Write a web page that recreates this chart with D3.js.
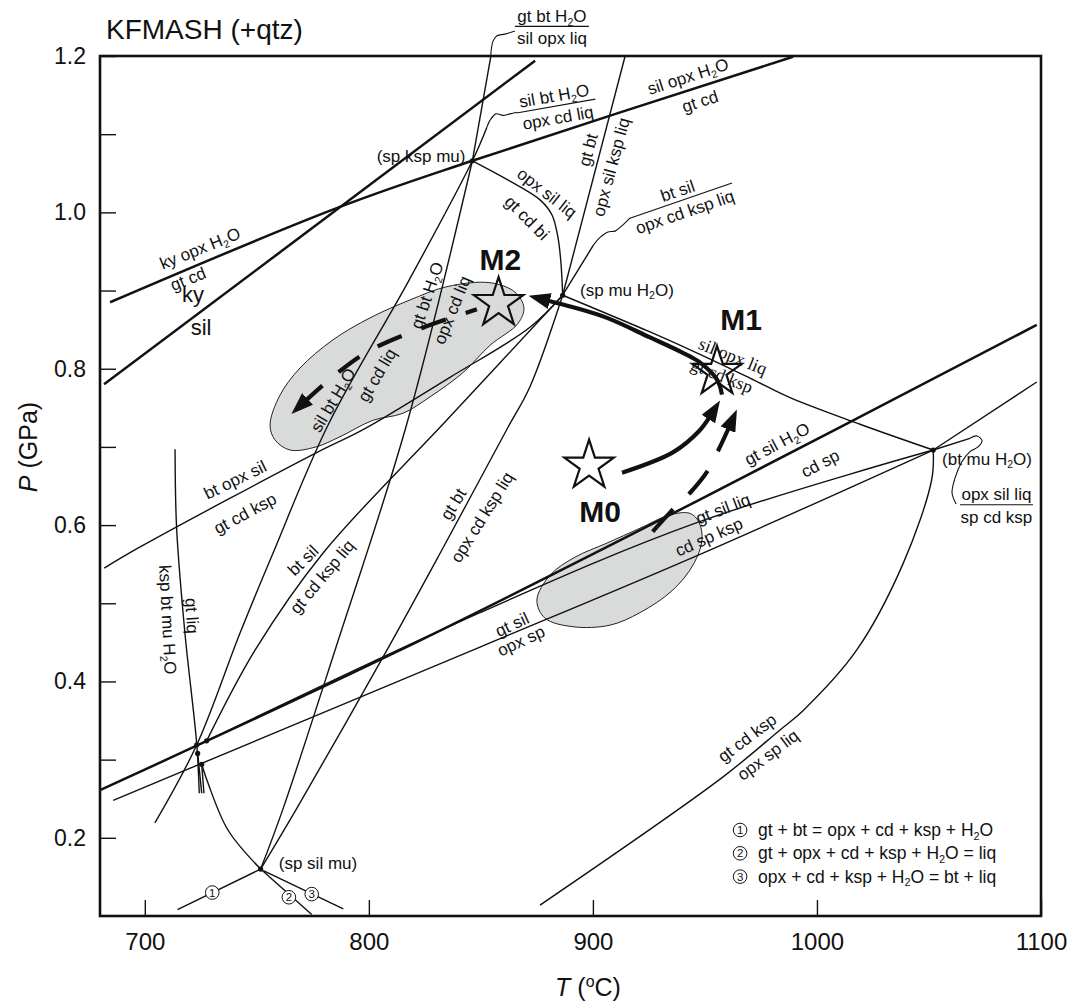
<!DOCTYPE html>
<html>
<head>
<meta charset="utf-8">
<title>KFMASH (+qtz) petrogenetic grid</title>
<script src="https://cdn.jsdelivr.net/npm/d3@7"></script>
<style>
  body { margin: 0; background: #fff; }
  svg text { font-family: "Liberation Sans", Arial, Helvetica, sans-serif; fill: #111; }
  .serif { font-family: "Liberation Serif", "Times New Roman", serif !important; }
</style>
</head>
<body>
<svg id="grid" width="1071" height="1002"></svg>
<script>
// ---------- axes ----------
const tempDomain = [680, 1100];
const pressDomain = [0.1, 1.2];
const tempTicks = [700, 800, 900, 1000, 1100];
const pressTicks = [0.2, 0.3, 0.4, 0.5, 0.6, 0.7, 0.8, 0.9, 1.0, 1.1, 1.2];
const pressLabels = [0.2, 0.4, 0.6, 0.8, 1.0, 1.2];

// ---------- reaction curves, points are [T (°C), P (GPa)] ----------
// heavy lines
const kySil      = [[681.8, 0.780], [874.2, 1.194]];
const kyOpxH2O   = [[684.5, 0.885], [786.2, 1.006], [846.2, 1.066], [989.3, 1.199]];
const gtSilH2O   = [[680.0, 0.261], [813.9, 0.440], [947.3, 0.632], [1098.1, 0.856]];

// thin lines
const silBtH2O   = [[704.5, 0.219], [723.2, 0.319], [742.5, 0.462], [757.2, 0.564], [781.8, 0.728], [817.9, 0.913], [846.2, 1.066], [852.7, 1.109]];
const gtBtH2O    = [[751.7, 0.160], [761.8, 0.238], [784.9, 0.440], [816.8, 0.728], [846.2, 1.066]];
const gtBtH2OHi  = [[846.2, 1.066], [854.4, 1.199]];
const gtBt       = [[751.7, 0.160], [767.9, 0.238], [806.3, 0.431], [831.8, 0.564], [861.5, 0.722], [871.9, 0.777], [886.5, 0.894]];
const gtBtHi     = [[886.5, 0.894], [914.3, 1.199]];
const btSil      = [[727.6, 0.324], [749.2, 0.440], [779.5, 0.564], [834.7, 0.734], [886.5, 0.894]];
const btSilHi    = [[886.5, 0.894], [900.2, 0.958]];
const btOpxSil   = [[681.9, 0.545], [697.9, 0.572], [776.9, 0.693], [797.4, 0.722], [836.2, 0.789], [871.9, 0.853], [886.5, 0.894]];
const opxSilLiq  = [[846.2, 1.066], [863.0, 1.040], [876.4, 1.016], [881.7, 0.997], [884.4, 0.968], [885.8, 0.933], [886.5, 0.894]];
const silOpxLiq  = [[886.5, 0.894], [925.5, 0.847], [947.3, 0.819], [970.1, 0.788], [988.0, 0.763], [1019.2, 0.729], [1051.9, 0.696]];
const gtSilLiq   = [[727.6, 0.324], [849.6, 0.488], [947.3, 0.604], [1051.9, 0.696]];
const gtSilOpxSp = [[685.9, 0.248], [849.6, 0.444], [947.3, 0.562], [1051.9, 0.696]];
const gtSilOpxSpHi = [[1051.9, 0.696], [1098.1, 0.783]];
const gtCdKsp    = [[1051.9, 0.696], [1051.2, 0.658], [1038.5, 0.551], [1017.7, 0.440], [993.9, 0.363], [983.5, 0.338], [958.1, 0.278], [876.4, 0.114]];
const opxSilLiqHi = [[1051.9, 0.696], [1068.3, 0.711]];
const kspBtMu    = [[713.5, 0.697], [714.2, 0.596], [717.9, 0.462], [723.2, 0.319], [724.3, 0.257]];
const stubA      = [[723.6, 0.308], [725.4, 0.257]];
const stubB      = [[725.4, 0.294], [726.4, 0.257]];
const gtLiq      = [[725.4, 0.294], [728.2, 0.270], [737.1, 0.210], [751.7, 0.160]];
const reaction1  = [[751.7, 0.160], [714.6, 0.108]];
const reaction2  = [[751.7, 0.160], [774.5, 0.102]];
const reaction3  = [[752.9, 0.158], [788.6, 0.109]];

const heavyCurves = [kySil, kyOpxH2O, gtSilH2O];
const thinCurves = [silBtH2O, gtBtH2O, gtBtH2OHi, gtBt, gtBtHi, btSil, btSilHi, btOpxSil,
  opxSilLiq, silOpxLiq, gtSilLiq, gtSilOpxSp, gtSilOpxSpHi, gtCdKsp, opxSilLiqHi,
  kspBtMu, stubA, stubB, gtLiq, reaction1, reaction2, reaction3];

// leaders joining metastable ends to their reaction labels
const leaderTop   = [[854.4, 1.200], [855.4, 1.219], [857.2, 1.226], [860.8, 1.228], [865.2, 1.232]];
const leaderSilBt = [[852.7, 1.109], [854.1, 1.118], [856.7, 1.126], [859.9, 1.124], [863.0, 1.126], [866.1, 1.128]];
const leaderBtSil = [[900.2, 0.958], [903.2, 0.968], [906.7, 0.975], [909.9, 0.976], [913.0, 0.983], [916.6, 0.993]];
const leaderBtMu  = [[1068.3, 0.711], [1071.4, 0.714], [1073.7, 0.708], [1071.9, 0.700], [1068.3, 0.694], [1064.7, 0.681], [1061.6, 0.660], [1060.3, 0.641], [1062.1, 0.627]];

// invariant points
const invariants = [
  { name: "(sp ksp mu)", T: 846.2, P: 1.066, lT: 823.3, lP: 1.072 },
  { name: "(sp mu H2O)", T: 886.5, P: 0.894, lT: 915.2, lP: 0.901 },
  { name: "(bt mu H2O)", T: 1051.9, P: 0.696, lT: 1075.9, lP: 0.685 },
  { name: "(sp sil mu)", T: 751.7, P: 0.160, lT: 777.3, lP: 0.168 }
];
const clusterPoints = [[723.2, 0.319], [727.6, 0.324], [723.6, 0.308], [725.4, 0.294]];

// shaded P–T fields
const fieldM2 = [[755.9, 0.728], [760.3, 0.766], [769.3, 0.801], [784.0, 0.837], [800.5, 0.865], [818.4, 0.888],
  [834.9, 0.905], [854.1, 0.910], [865.2, 0.898], [869.2, 0.878], [866.6, 0.858], [854.1, 0.830], [842.0, 0.795],
  [827.3, 0.764], [815.2, 0.743], [801.8, 0.734], [787.1, 0.713], [776.4, 0.700], [764.8, 0.696], [758.1, 0.709]];
const fieldM0 = [[875.0, 0.504], [878.6, 0.481], [891.1, 0.470], [907.6, 0.472], [921.0, 0.488], [935.7, 0.517],
  [944.7, 0.549], [948.7, 0.581], [947.3, 0.604], [943.3, 0.615], [934.4, 0.613], [921.0, 0.596], [906.3, 0.577],
  [892.0, 0.559], [880.9, 0.536]];

// metamorphic stages
const stages = [
  { name: "M0", T: 898.3, P: 0.676, lT: 903.2, lP: 0.604 },
  { name: "M1", T: 955.4, P: 0.796, lT: 966.1, lP: 0.850 },
  { name: "M2", T: 857.9, P: 0.884, lT: 858.7, lP: 0.926 }
];

// P–T path segments
const pathM1toM2 = [[957.6, 0.767], [955.4, 0.786], [947.3, 0.809], [939.7, 0.821], [925.5, 0.840], [906.3, 0.865], [892.0, 0.878], [878.6, 0.888]];
const pathM0toM1 = [[913.0, 0.667], [935.7, 0.693], [947.3, 0.720], [952.7, 0.741]];
const pathLowToM1 = [[924.6, 0.585], [934.4, 0.616], [943.3, 0.641], [950.9, 0.668], [956.7, 0.700], [961.2, 0.728]];
const pathM2Down = [[848.2, 0.876], [823.7, 0.852], [799.6, 0.822], [784.9, 0.792], [771.0, 0.757]];

// reaction labels: text, T, P, rotation
const fieldLabels = [
  ["ky opx H2O", 724.6, 0.954, -22], ["gt cd", 719.3, 0.915, -22],
  ["sil opx H2O", 942.4, 1.174, -18], ["gt cd", 947.8, 1.142, -18],
  ["gt bt", 897.8, 1.080, -75], ["opx sil ksp liq", 908.1, 1.058, -75],
  ["opx sil liq", 879.5, 1.025, 38], ["gt cd bi", 870.6, 0.993, 45],
  ["gt bt H2O", 825.9, 0.894, -71], ["opx cd liq", 837.1, 0.875, -68],
  ["sil bt H2O", 784.0, 0.760, -59], ["gt cd liq", 803.6, 0.792, -59],
  ["bt opx sil", 740.3, 0.658, -26], ["gt cd ksp", 744.7, 0.615, -28],
  ["bt sil", 770.6, 0.555, -45], ["gt cd ksp liq", 779.1, 0.534, -50],
  ["gt bt", 837.6, 0.627, -58], ["opx cd ksp liq", 850.5, 0.610, -58],
  ["ksp bt mu H2O", 710.3, 0.479, 87], ["gt liq", 721.1, 0.484, 87],
  ["gt sil H2O", 982.2, 0.704, -28], ["cd sp", 1001.4, 0.679, -28],
  ["gt sil liq", 958.1, 0.621, -21], ["cd sp ksp", 951.8, 0.585, -24],
  ["gt sil", 863.9, 0.473, -25], ["opx sp", 867.9, 0.452, -25],
  ["gt cd ksp", 968.8, 0.328, -37], ["opx sp liq", 978.1, 0.306, -37]
];
const serifLabels = [["sil opx liq", 962.5, 0.816, 22], ["gt cd ksp", 957.6, 0.791, 22]];
const stabilityLabels = [["ky", 721.5, 0.885], ["sil", 725.1, 0.843]];

// reactions written as fractions: upper, lower, T, P of the bar, rotation, bar length
const fractionLabels = [
  ["gt bt H2O", "sil opx liq", 881.7, 1.238, 0, 74],
  ["sil bt H2O", "opx cd liq", 883.5, 1.136, -10, 80],
  ["bt sil", "opx cd ksp liq", 939.3, 1.015, -19, 108],
  ["opx sil liq", "sp cd ksp", 1080.1, 0.626, 0, 73]
];

// numbered reactions
const markerNumbers = [["1", 730.1, 0.130], ["2", 764.3, 0.124], ["3", 774.5, 0.128]];
const legendRows = ["gt + bt = opx + cd + ksp + H2O", "gt + opx + cd + ksp + H2O = liq", "opx + cd + ksp + H2O = bt + liq"];
const legendAnchor = [965.7, 0.2023];

// ---------- drawing ----------
const svg = d3.select("#grid");
const x = d3.scaleLinear().domain(tempDomain).range([100, 1041]);
const y = d3.scaleLinear().domain(pressDomain).range([916, 56]);

const curve = d3.line().x(d => x(d[0])).y(d => y(d[1])).curve(d3.curveCatmullRom.alpha(0.5));
const loop = d3.line().x(d => x(d[0])).y(d => y(d[1])).curve(d3.curveCatmullRomClosed.alpha(0.5));

function richText(sel, str, size) {
  str.split(/(H2O)/).forEach(p => {
    if (p === "H2O") {
      sel.append("tspan").text("H");
      sel.append("tspan").attr("dy", size * 0.22).attr("font-size", size * 0.62).text("2");
      sel.append("tspan").attr("dy", -size * 0.22).text("O");
    } else if (p) {
      sel.append("tspan").text(p);
    }
  });
}

const defs = svg.append("defs");
defs.append("marker").attr("id", "head")
  .attr("viewBox", "0 0 22 16").attr("refX", 5).attr("refY", 8)
  .attr("markerWidth", 22).attr("markerHeight", 16)
  .attr("markerUnits", "userSpaceOnUse").attr("orient", "auto")
  .append("path").attr("d", "M0,0 L22,8 L0,16 Z").attr("fill", "#111");

// shaded fields
const gFields = svg.append("g");
[fieldM2, fieldM0].forEach(f => {
  gFields.append("path").attr("d", loop(f))
    .attr("fill", "#d9dada").attr("stroke", "#222").attr("stroke-width", 1);
});

// reaction curves
const gCurves = svg.append("g").attr("fill", "none").attr("stroke", "#111").attr("stroke-linejoin", "round");
thinCurves.forEach(c => gCurves.append("path").attr("d", curve(c)).attr("stroke-width", 1.4));
heavyCurves.forEach(c => gCurves.append("path").attr("d", curve(c)).attr("stroke-width", 2.5));
[leaderTop, leaderSilBt, leaderBtSil, leaderBtMu].forEach(c =>
  gCurves.append("path").attr("d", curve(c)).attr("stroke-width", 1.1));

// invariant points
const gPts = svg.append("g");
invariants.forEach(p => gPts.append("circle").attr("cx", x(p.T)).attr("cy", y(p.P)).attr("r", 2.6).attr("fill", "#111"));
clusterPoints.forEach(p => gPts.append("circle").attr("cx", x(p[0])).attr("cy", y(p[1])).attr("r", 2.6).attr("fill", "#111"));

// labels
const gLab = svg.append("g");
const LS = 17;
fieldLabels.forEach(([t, T, P, a]) => {
  const el = gLab.append("text").attr("transform", `translate(${x(T)},${y(P)}) rotate(${a})`)
    .attr("text-anchor", "middle").attr("y", LS * 0.35).attr("font-size", LS);
  richText(el, t, LS);
});
serifLabels.forEach(([t, T, P, a]) => {
  gLab.append("text").attr("class", "serif").attr("transform", `translate(${x(T)},${y(P)}) rotate(${a})`)
    .attr("text-anchor", "middle").attr("y", 6).attr("font-size", 18).text(t);
});
stabilityLabels.forEach(([t, T, P]) => {
  gLab.append("text").attr("x", x(T)).attr("y", y(P)).attr("text-anchor", "middle").attr("font-size", 22).text(t);
});
invariants.forEach(p => {
  const el = gLab.append("text").attr("x", x(p.lT)).attr("y", y(p.lP) + LS * 0.35)
    .attr("text-anchor", "middle").attr("font-size", LS);
  richText(el, p.name, LS);
});
fractionLabels.forEach(([top, bottom, T, P, a, len]) => {
  const g = gLab.append("g").attr("transform", `translate(${x(T)},${y(P)}) rotate(${a})`);
  g.append("line").attr("x1", -len / 2).attr("x2", len / 2).attr("stroke", "#111").attr("stroke-width", 1.2);
  const t1 = g.append("text").attr("text-anchor", "middle").attr("y", -4.5).attr("font-size", LS);
  richText(t1, top, LS);
  const t2 = g.append("text").attr("text-anchor", "middle").attr("y", LS * 1.05).attr("font-size", LS);
  richText(t2, bottom, LS);
});

// numbered markers on reactions 1-3
function circledNumber(g, n, cx, cy, fill) {
  g.append("circle").attr("cx", cx).attr("cy", cy).attr("r", 6.8)
    .attr("fill", fill).attr("stroke", "#111").attr("stroke-width", 1);
  g.append("text").attr("x", cx).attr("y", cy + 4).attr("text-anchor", "middle")
    .attr("font-size", 11.5).text(n);
}
markerNumbers.forEach(([n, T, P]) => circledNumber(gLab, n, x(T), y(P), "#fff"));

// legend of the numbered reactions
const lx = x(legendAnchor[0]), ly = y(legendAnchor[1]);
legendRows.forEach((row, i) => {
  const by = ly + i * 23.3;
  circledNumber(gLab, String(i + 1), lx, by - 6, "none");
  const el = gLab.append("text").attr("x", lx + 18).attr("y", by).attr("font-size", 17.5);
  richText(el, row, 17.5);
});

// stages
const gStage = svg.append("g");
const starSize = 26 * 26 / 0.8908130915292852;
stages.forEach(s => {
  gStage.append("path").attr("d", d3.symbol(d3.symbolStar, starSize)())
    .attr("transform", `translate(${x(s.T)},${y(s.P)})`)
    .attr("fill", "none").attr("stroke", "#111").attr("stroke-width", 2.2).attr("stroke-linejoin", "miter");
  gStage.append("text").attr("x", x(s.lT)).attr("y", y(s.lP)).attr("text-anchor", "middle")
    .attr("font-size", 30).attr("font-weight", "bold").text(s.name);
});

// P–T path arrows
const gPath = svg.append("g").attr("fill", "none").attr("stroke", "#111").attr("stroke-width", 4.2);
function arrow(pts, dash) {
  const p = gPath.append("path").attr("d", curve(pts)).attr("marker-end", "url(#head)");
  if (dash) {
    const L = p.node().getTotalLength();
    const period = dash[0] + dash[1];
    const offset = (((dash[0] - 1 - L) % period) + period) % period;
    p.attr("stroke-dasharray", dash.join(",")).attr("stroke-dashoffset", offset);
  }
}
arrow(pathM1toM2);
arrow(pathM0toM1);
arrow(pathLowToM1, [30, 22]);
arrow(pathM2Down, [26, 21]);

// axes
const gx = svg.append("g").attr("transform", "translate(0,916)")
  .call(d3.axisBottom(x).tickValues(tempTicks).tickSizeInner(-16).tickSizeOuter(0).tickPadding(17).tickFormat(d3.format("d")));
gx.select(".domain").remove();
gx.attr("font-size", 24).attr("color", "#111");
gx.selectAll("line").attr("stroke-width", 1.4);

const gy = svg.append("g").attr("transform", "translate(100,0)")
  .call(d3.axisLeft(y).tickValues(pressTicks).tickSizeInner(-16).tickSizeOuter(0).tickPadding(14)
    .tickFormat(d => pressLabels.some(v => Math.abs(v - d) < 1e-9) ? d3.format(".1f")(d) : ""));
gy.select(".domain").remove();
gy.attr("font-size", 23).attr("color", "#111");
gy.selectAll("line").attr("stroke-width", 1.4);

// frame
svg.append("rect").attr("x", x(tempDomain[0])).attr("y", y(pressDomain[1]))
  .attr("width", x(tempDomain[1]) - x(tempDomain[0])).attr("height", y(pressDomain[0]) - y(pressDomain[1]))
  .attr("fill", "none").attr("stroke", "#111").attr("stroke-width", 2.6);

// titles
svg.append("text").attr("x", 106).attr("y", 39).attr("font-size", 28).text("KFMASH (+qtz)");
const py = svg.append("text").attr("transform", "translate(37,447) rotate(-90)")
  .attr("text-anchor", "middle").attr("font-size", 25);
py.append("tspan").attr("font-style", "italic").text("P");
py.append("tspan").text(" (GPa)");
const tx = svg.append("text").attr("x", 588).attr("y", 996).attr("text-anchor", "middle").attr("font-size", 25);
tx.append("tspan").attr("font-style", "italic").text("T");
tx.append("tspan").text(" (");
tx.append("tspan").attr("dy", -9).attr("font-size", 16).text("o");
tx.append("tspan").attr("dy", 9).text("C)");
</script>
</body>
</html>
